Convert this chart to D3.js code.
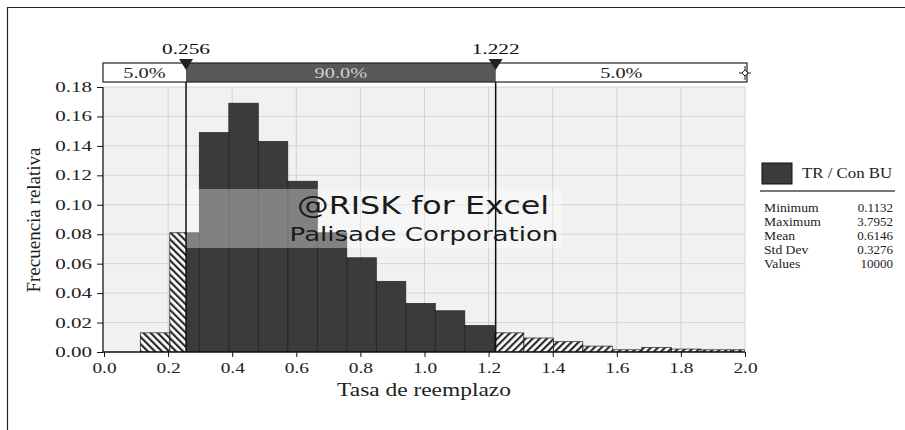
<!DOCTYPE html>
<html><head><meta charset="utf-8">
<script src="https://cdn.jsdelivr.net/npm/d3@7"></script>
<style>
html,body{margin:0;padding:0;background:#fff;}
svg{display:block;}
</style></head>
<body>
<svg id="chart" width="905" height="430"></svg>
<script>
// ---- data ----
const binStarts = [0.1132, 0.2053, 0.2973, 0.3894, 0.4814, 0.5735, 0.6655, 0.7576, 0.8496, 0.9417,
                   1.0337, 1.1258, 1.2178, 1.3099, 1.4019, 1.4940, 1.5860, 1.6781, 1.7701, 1.8622, 1.9542];
const binWidth = 0.09205;
const freqs = [0.013, 0.081, 0.149, 0.169, 0.143, 0.116, 0.081, 0.064, 0.048, 0.033,
               0.028, 0.018, 0.013, 0.0095, 0.007, 0.004, 0.0015, 0.003, 0.002, 0.0015, 0.0015];
const xTicks = [0.0, 0.2, 0.4, 0.6, 0.8, 1.0, 1.2, 1.4, 1.6, 1.8, 2.0];
const yTicks = [0.00, 0.02, 0.04, 0.06, 0.08, 0.10, 0.12, 0.14, 0.16, 0.18];
const lowCut = 0.256, highCut = 1.222;
const pctLabels = ["5.0%", "90.0%", "5.0%"];
const seriesName = "TR / Con BU";
const statNames = ["Minimum", "Maximum", "Mean", "Std Dev", "Values"];
const statValues = ["0.1132", "3.7952", "0.6146", "0.3276", "10000"];
const xTitle = "Tasa de reemplazo";
const yTitle = "Frecuencia relativa";
const watermark = ["@RISK for Excel", "Palisade Corporation"];

// ---- drawing ----
const svg = d3.select("#chart");
const serif = "'Liberation Serif','Times New Roman',serif";
const sans = "'DejaVu Sans',Verdana,sans-serif";
const L = 104, R = 745, T = 87, B = 352;
const x = d3.scaleLinear().domain([0, 2]).range([L, R]);
const y = d3.scaleLinear().domain([0, 0.18]).range([B, T]);

function stretch(sel, f) {
  sel.each(function () {
    const w = this.getComputedTextLength();
    d3.select(this).attr("textLength", w * f).attr("lengthAdjust", "spacingAndGlyphs");
  });
  return sel;
}

svg.append("rect").attr("width", 905).attr("height", 430).attr("fill", "#fff");
svg.append("path").attr("d", "M7.5,430 V7.5 H905").attr("fill", "none").attr("stroke", "#222").attr("stroke-width", 1.2);

const defs = svg.append("defs");
function hatch(id, dir) {
  const p = defs.append("pattern").attr("id", id).attr("patternUnits", "userSpaceOnUse")
    .attr("width", 5).attr("height", 5)
    .attr("patternTransform", `rotate(${dir})`);
  p.append("rect").attr("width", 5).attr("height", 5).attr("fill", "#fff");
  p.append("line").attr("x1", 0).attr("y1", 0).attr("x2", 0).attr("y2", 5)
    .attr("stroke", "#2b2b2b").attr("stroke-width", 4.4);
}
hatch("hatchL", -45);
hatch("hatchR", 45);
defs.append("clipPath").attr("id", "plotClip").append("rect")
  .attr("x", L).attr("y", T - 2).attr("width", R - L).attr("height", B - T + 2);

svg.append("rect").attr("x", L).attr("y", T).attr("width", R - L).attr("height", B - T).attr("fill", "#f1f1f1");
svg.append("g").selectAll("line").data(yTicks.slice(1)).join("line")
  .attr("x1", L).attr("x2", R).attr("y1", d => y(d)).attr("y2", d => y(d))
  .attr("stroke", "#d6d6d6").attr("stroke-width", 1);
svg.append("g").selectAll("line").data(xTicks.slice(1)).join("line")
  .attr("y1", T).attr("y2", B).attr("x1", d => x(d)).attr("x2", d => x(d))
  .attr("stroke", "#d2d2d2").attr("stroke-width", 1);

const segs = [];
binStarts.forEach((s, i) => {
  const e = s + binWidth, v = freqs[i];
  const parts = [[s, Math.min(e, lowCut), "url(#hatchL)"],
                 [Math.max(s, lowCut), Math.min(e, highCut), "#3b3b3b"],
                 [Math.max(s, highCut), Math.min(e, 2), "url(#hatchR)"]];
  parts.forEach(p => { if (p[1] > p[0]) segs.push({x0: p[0], x1: p[1], v, fill: p[2]}); });
});
const gBars = svg.append("g").attr("clip-path", "url(#plotClip)");
gBars.selectAll("rect").data(segs).join("rect")
  .attr("x", d => x(d.x0)).attr("width", d => x(d.x1) - x(d.x0))
  .attr("y", d => y(d.v)).attr("height", d => B - y(d.v))
  .attr("fill", d => d.fill);
gBars.append("g").selectAll("rect").data(binStarts.map((s, i) => ({s, v: freqs[i]}))).join("rect")
  .attr("x", d => x(d.s)).attr("width", d => x(Math.min(d.s + binWidth, 2)) - x(d.s))
  .attr("y", d => y(d.v)).attr("height", d => B - y(d.v))
  .attr("fill", "none").attr("stroke", "#222").attr("stroke-width", 0.7);

// watermark overlay
svg.append("rect").attr("x", x(lowCut)).attr("y", 189).attr("width", 375).attr("height", 59)
  .attr("fill", "#fff").attr("opacity", 0.36);
stretch(svg.append("text").attr("x", 423).attr("y", 214).attr("text-anchor", "middle")
  .attr("font-family", sans).attr("font-size", 25).attr("fill", "#1a1a1a").text(watermark[0]), 1.27);
stretch(svg.append("text").attr("x", 424).attr("y", 241).attr("text-anchor", "middle")
  .attr("font-family", sans).attr("font-size", 20).attr("fill", "#1a1a1a").text(watermark[1]), 1.3);

svg.append("g").selectAll("line").data([lowCut, highCut]).join("line")
  .attr("x1", d => x(d)).attr("x2", d => x(d)).attr("y1", 63).attr("y2", B)
  .attr("stroke", "#111").attr("stroke-width", 1.5);

// axes
const yAxis = svg.append("g").attr("transform", `translate(${L - 1},0)`)
  .call(d3.axisLeft(y).tickValues(yTicks).tickFormat(d3.format(".2f")).tickSize(6).tickSizeOuter(0));
const xAxis = svg.append("g").attr("transform", `translate(0,${B})`)
  .call(d3.axisBottom(x).tickValues(xTicks).tickFormat(d3.format(".1f")).tickSize(5).tickSizeOuter(0));
[yAxis, xAxis].forEach(a => {
  a.select(".domain").attr("stroke", "#111").attr("stroke-width", 1.3);
  a.selectAll(".tick line").attr("stroke", "#111");
  a.selectAll("text").attr("font-family", serif).attr("font-size", 14).attr("fill", "#222");
});
yAxis.select(".domain").attr("d", `M0,${T}V${B}`);
xAxis.select(".domain").attr("d", `M${L - 1},0H${R}`);
xAxis.selectAll("text").attr("dy", "0.9em");
yAxis.selectAll("text").attr("x", -11);
stretch(yAxis.selectAll("text"), 1.5);
stretch(xAxis.selectAll("text"), 1.38);

stretch(svg.append("text").attr("x", 424).attr("y", 396).attr("text-anchor", "middle")
  .attr("font-family", serif).attr("font-size", 18).attr("fill", "#222").text(xTitle), 1.3);
svg.append("text").attr("transform", "translate(40,220) rotate(-90)").attr("text-anchor", "middle")
  .attr("font-family", serif).attr("font-size", 19).attr("fill", "#222").text(yTitle);

// percentile bar
const bx0 = L - 1, bx1 = R + 2, by0 = 63, by1 = 82;
const boxSegs = [[bx0, x(lowCut), "#fff", "#222"], [x(lowCut), x(highCut), "#585858", "#d0d0d0"], [x(highCut), bx1, "#fff", "#222"]];
svg.append("g").selectAll("rect").data(boxSegs).join("rect")
  .attr("x", d => d[0]).attr("width", d => d[1] - d[0]).attr("y", by0).attr("height", by1 - by0)
  .attr("fill", d => d[2]);
svg.append("rect").attr("x", bx0).attr("y", by0).attr("width", bx1 - bx0).attr("height", by1 - by0)
  .attr("fill", "none").attr("stroke", "#222").attr("stroke-width", 1.2);
stretch(svg.append("g").selectAll("text").data(boxSegs).join("text")
  .attr("x", (d, i) => (d[0] + d[1]) / 2).attr("y", 78).attr("text-anchor", "middle")
  .attr("font-family", serif).attr("font-size", 14).attr("fill", d => d[3])
  .text((d, i) => pctLabels[i]), 1.45);
const mx = R, my = 73;
svg.append("path").attr("d", `M${mx - 6},${my}H${mx + 6}M${mx},${my - 7}V${my + 7}`).attr("stroke", "#222").attr("stroke-width", 1);
svg.append("path").attr("d", `M${mx - 3},${my}L${mx},${my - 3}L${mx + 3},${my}L${mx},${my + 3}Z`).attr("fill", "#fff").attr("stroke", "#222");

[lowCut, highCut].forEach(c => {
  svg.append("path").attr("d", `M${x(c) - 7},${by0 - 4}H${x(c) + 7}L${x(c)},${by0 + 7}Z`).attr("fill", "#222");
  stretch(svg.append("text").attr("x", x(c)).attr("y", 54).attr("text-anchor", "middle")
    .attr("font-family", serif).attr("font-size", 15).attr("fill", "#111").text(d3.format(".3f")(c)), 1.42);
});

// legend
const lg = svg.append("g");
lg.append("rect").attr("x", 762).attr("y", 163).attr("width", 30).attr("height", 21)
  .attr("fill", "#3b3b3b").attr("stroke", "#111");
stretch(lg.append("text").attr("x", 802).attr("y", 178).attr("font-family", serif).attr("font-size", 14).attr("fill", "#222").text(seriesName), 1.2);
lg.append("line").attr("x1", 760).attr("x2", 895).attr("y1", 191).attr("y2", 191).attr("stroke", "#777").attr("stroke-width", 2);
statNames.forEach((n, i) => {
  const yy = 212 + i * 14;
  stretch(lg.append("text").attr("x", 764).attr("y", yy).attr("font-family", serif).attr("font-size", 13).attr("fill", "#222").text(n), 1.05);
  lg.append("text").attr("x", 893).attr("y", yy).attr("text-anchor", "end").attr("font-family", serif).attr("font-size", 13).attr("fill", "#222").text(statValues[i]);
});
</script>
</body></html>
